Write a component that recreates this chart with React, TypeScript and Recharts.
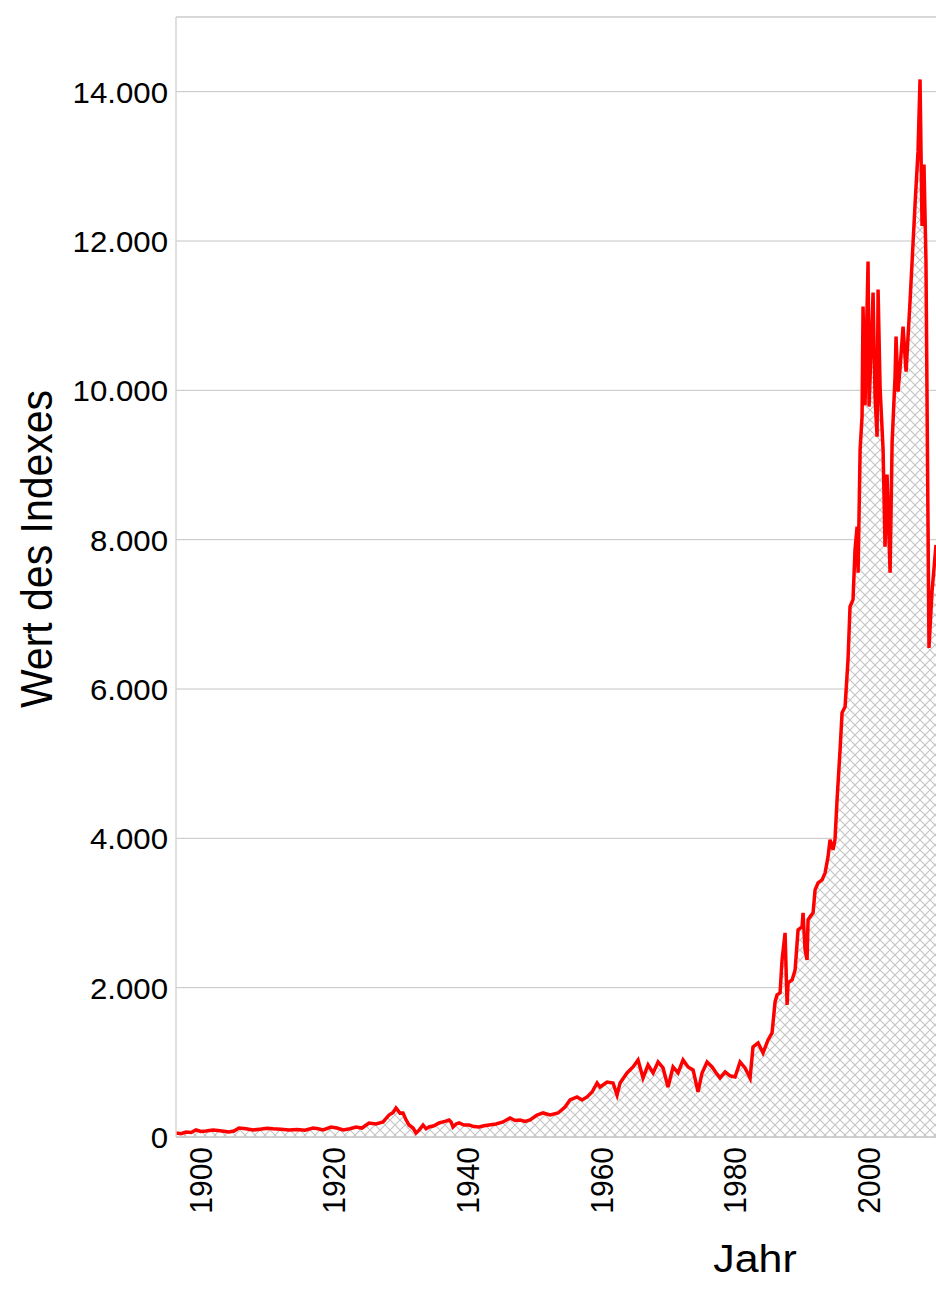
import React from 'react';
import { AreaChart, Area, XAxis, YAxis, CartesianGrid, ReferenceLine } from 'recharts';

const years: number[] = [
  1896.0, 1896.75, 1897.5, 1898.25, 1899.0, 1899.74, 1900.49, 1901.54, 1902.59, 1903.93,
  1904.68, 1905.43, 1906.48, 1907.53, 1908.57, 1909.62, 1910.52, 1911.72, 1912.92, 1914.11,
  1915.31, 1916.51, 1917.26, 1918.01, 1919.2, 1920.1, 1921.0, 1922.05, 1922.95, 1923.84,
  1924.89, 1925.94, 1926.99, 1927.89, 1928.49, 1928.93, 1929.53, 1929.98, 1930.43, 1930.88,
  1931.48, 1931.93, 1932.37, 1932.98, 1933.43, 1933.87, 1934.62, 1935.37, 1936.27, 1936.87,
  1937.17, 1937.47, 1937.92, 1938.37, 1939.11, 1939.86, 1940.61, 1941.36, 1942.11, 1942.86,
  1943.9, 1944.95, 1946.0, 1946.75, 1947.5, 1948.25, 1949.0, 1950.04, 1950.94, 1951.99,
  1953.19, 1954.23, 1954.98, 1956.03, 1956.78, 1957.53, 1958.28, 1959.03, 1959.47, 1960.52,
  1961.42, 1962.02, 1962.47, 1963.51, 1964.41, 1965.16, 1965.91, 1966.66, 1967.41, 1968.16,
  1968.9, 1969.65, 1970.4, 1971.15, 1971.9, 1972.65, 1973.4, 1974.14, 1974.74, 1975.49,
  1976.24, 1976.84, 1977.44, 1978.19, 1978.93, 1979.68, 1980.43, 1981.18, 1981.93, 1982.37,
  1983.13, 1983.87, 1984.62, 1985.22, 1985.67, 1985.97, 1986.42, 1986.72, 1987.17, 1987.47,
  1987.62, 1988.22, 1988.67, 1989.11, 1989.71, 1989.86, 1990.16, 1990.46, 1990.61, 1990.91,
  1991.36, 1991.66, 1992.11, 1992.71, 1993.16, 1993.6, 1993.9, 1994.34, 1994.64, 1994.95,
  1995.4, 1995.7, 1996.15, 1996.59, 1996.89, 1997.34, 1997.64, 1997.95, 1998.1, 1998.4,
  1998.69, 1998.84, 1999.14, 1999.59, 1999.74, 2000.34, 2000.64, 2000.94, 2001.09, 2001.39,
  2001.84, 2002.13, 2002.43, 2002.89, 2003.19, 2003.63, 2003.78, 2004.08, 2004.38, 2004.83,
  2005.28, 2005.88, 2006.63, 2007.07, 2007.37, 2007.67, 2007.96, 2008.26, 2008.71, 2009.16,
  2009.76,
];

const indexValues: number[] = [
  54, 45, 67, 60, 94, 75, 80, 95, 85, 67,
  80, 121, 110, 94, 105, 118, 110, 105, 94, 100,
  90, 121, 110, 94, 134, 120, 94, 110, 134, 120,
  188, 175, 201, 295, 330, 389, 320, 322, 230, 161,
  120, 54, 90, 161, 110, 134, 150, 188, 210, 228,
  200, 134, 175, 188, 160, 161, 140, 134, 150, 161,
  175, 201, 255, 220, 228, 210, 228, 295, 322, 295,
  322, 402, 496, 536, 496, 536, 603, 724, 670, 737,
  724, 563, 724, 858, 938, 1032, 791, 965, 858, 1005,
  925, 670, 938, 858, 1032, 938, 898, 603, 858, 1005,
  938, 860, 791, 871, 820, 804, 1005, 925, 791, 1206,
  1260, 1126, 1300, 1394, 1809, 1903, 1930, 2372, 2734, 1769,
  2064, 2104, 2238, 2774, 2814, 3002, 2506, 2372, 2908, 2948,
  3002, 3310, 3404, 3444, 3538, 3752, 3980, 3846, 3980, 4516,
  5186, 5682, 5762, 6392, 7102, 7196, 7866, 8174, 7558, 9206,
  9648, 11122, 9800, 11725, 9782, 11310, 9900, 9380, 11350, 10037,
  9206, 7906, 8871, 7558, 9300, 10184, 10720, 9983, 10300, 10854,
  10250, 11200, 12500, 13200, 14164, 12200, 13025, 11725, 6550, 7300,
  7930,
];

const xTicks: number[] = [1900, 1920, 1940, 1960, 1980, 2000];
const yTicks: number[] = [0, 2000, 4000, 6000, 8000, 10000, 12000, 14000];
const xTitle = 'Jahr';
const yTitle = 'Wert des Indexes';

const data = years.map((y, i) => ({ year: y, value: indexValues[i] }));

const FONT = '"Liberation Sans", Arial, Helvetica, sans-serif';

const fmt = (v: number) => String(v).replace(/\B(?=(\d{3})+(?!\d))/g, '.');

const XTick = (props: any) => {
  const { x, y, payload } = props;
  return (
    <text
      transform={`translate(${x + 9},${y}) rotate(-90) scale(1,1.06)`}
      textAnchor="end"
      fontSize={30}
      fontFamily={FONT}
      fill="#000"
    >
      {payload.value}
    </text>
  );
};

const YTick = (props: any) => {
  const { x, y, payload } = props;
  return (
    <text
      transform={`translate(${x},${y + 11}) scale(1.04,1)`}
      textAnchor="end"
      fontSize={30}
      fontFamily={FONT}
      fill="#000"
    >
      {fmt(payload.value)}
    </text>
  );
};

export default function App() {
  return (
    <div style={{ position: 'absolute', left: 0, top: 0, width: 936, height: 1291, overflow: 'hidden', background: '#fff' }}>
      <AreaChart
        width={936}
        height={1291}
        data={data}
        margin={{ top: 17, right: 0, bottom: 0, left: 0 }}
      >
        <defs>
          <pattern id="hatch" width="10" height="10" patternUnits="userSpaceOnUse">
            <rect x="0" y="0" width="10" height="10" fill="#ffffff" />
            <path d="M0,0 L10,10 M10,0 L0,10" stroke="#c4c4c4" strokeWidth="1.1" />
          </pattern>
        </defs>
        <CartesianGrid horizontal vertical={false} stroke="#c4c4c4" strokeWidth={1} />
        <XAxis
          dataKey="year"
          type="number"
          domain={[1896, 2009.76]}
          ticks={xTicks}
          allowDataOverflow
          height={154}
          tickSize={0}
          tickMargin={10}
          tickLine={false}
          axisLine={{ stroke: '#c4c4c4', strokeWidth: 1.5 }}
          tick={<XTick />}
          interval={0}
        />
        <YAxis
          type="number"
          domain={[0, 15000]}
          ticks={yTicks}
          allowDataOverflow
          width={176}
          tickSize={0}
          tickMargin={8}
          tickLine={false}
          axisLine={{ stroke: '#d4d4d4', strokeWidth: 1.5 }}
          tick={<YTick />}
          interval={0}
        />
        <ReferenceLine y={15000} stroke="#d4d4d4" strokeWidth={1.5} />
        <Area
          type="linear"
          dataKey="value"
          stroke="#ff0000"
          strokeWidth={3.5}
          fill="url(#hatch)"
          fillOpacity={1}
          dot={false}
          activeDot={false}
          isAnimationActive={false}
        />
      </AreaChart>
      <svg
        width={936}
        height={1291}
        style={{ position: 'absolute', left: 0, top: 0, pointerEvents: 'none' }}
      >
        <text
          transform="translate(52,549) rotate(-90) scale(1,1.08)"
          textAnchor="middle"
          fontSize={41}
          fontFamily={FONT}
          fill="#000"
        >
          {yTitle}
        </text>
        <text
          transform="translate(755,1272) scale(1.1,1)"
          textAnchor="middle"
          fontSize={39}
          fontFamily={FONT}
          fill="#000"
        >
          {xTitle}
        </text>
      </svg>
    </div>
  );
}
